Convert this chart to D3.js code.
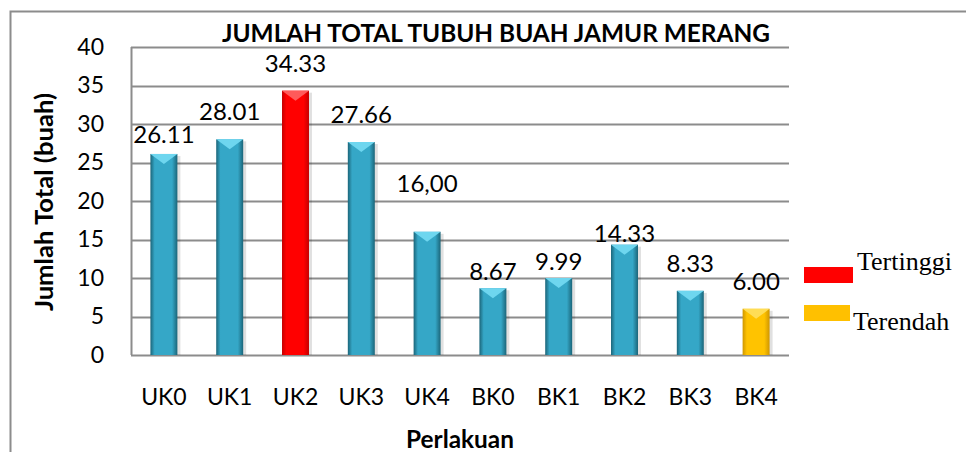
<!DOCTYPE html>
<html>
<head>
<meta charset="utf-8">
<script src="https://cdn.jsdelivr.net/npm/d3@7"></script>
<style>
  body { margin: 0; background: #fff; }
  svg { display: block; font-family: Lato, "Open Sans", sans-serif; }
</style>
</head>
<body>
<span></span>
<script>
// jumlah total tubuh buah jamur merang per perlakuan

const categories = ["UK0", "UK1", "UK2", "UK3", "UK4", "BK0", "BK1", "BK2", "BK3", "BK4"];
const values = [26.11, 28.01, 34.33, 27.66, 16.00, 8.67, 9.99, 14.33, 8.33, 6.00];
const valueLabels = ["26.11", "28.01", "34.33", "27.66", "16,00", "8.67", "9.99", "14.33", "8.33", "6.00"];
const yTicks = [0, 5, 10, 15, 20, 25, 30, 35, 40];
const legendItems = ["Tertinggi", "Terendah"];

// how far each label sits above its bar (labels were moved by hand in the original)
const labelGap = [11, 19, 19, 19, 40, 8, 8, 3, 19, 19];

var width = 966, height = 452;
var margin = {top: 47, right: 177, bottom: 97, left: 131};

const svg = d3.select("span")
    .append("svg")
    .attr("width", width)
    .attr("height", height);

const defs = svg.append("defs");

// bevel look: darker edges, lighter middle
function bevel(id, edge, mid) {
    const g = defs.append("linearGradient").attr("id", id)
        .attr("x1", "0%").attr("x2", "100%");
    g.append("stop").attr("offset", "0%").attr("stop-color", edge);
    g.append("stop").attr("offset", "16%").attr("stop-color", mid);
    g.append("stop").attr("offset", "80%").attr("stop-color", mid);
    g.append("stop").attr("offset", "100%").attr("stop-color", edge);
}
bevel("gBlue", "#1b6579", "#35a7c7");
bevel("gRed", "#c40000", "#ff0000");
bevel("gYellow", "#cf9600", "#ffc300");

const hi = d3.max(values), lo = d3.min(values);
function barStyle(v) {
    if (v === hi) return {fill: "url(#gRed)", top: "#ff5a5a"};
    if (v === lo) return {fill: "url(#gYellow)", top: "#ffdd55"};
    return {fill: "url(#gBlue)", top: "#6ed6ef"};
}

// outer frame
svg.append("path")
    .attr("d", `M10.5,${height + 5} V11.5 H${width + 5}`)
    .attr("fill", "none")
    .attr("stroke", "#8c8c8c")
    .attr("stroke-width", 2);

const xScale = d3.scaleBand()
    .domain(categories)
    .range([margin.left, width - margin.right])
    .paddingInner(0.59)
    .paddingOuter(0.295);

const yScale = d3.scaleLinear()
    .domain([0, 40])
    .range([height - margin.bottom, margin.top]);

// gridlines
svg.append("g")
    .selectAll("line")
    .data(yTicks)
    .join("line")
    .attr("x1", margin.left)
    .attr("x2", width - margin.right)
    .attr("y1", d => Math.round(yScale(d)) + 0.5)
    .attr("y2", d => Math.round(yScale(d)) + 0.5)
    .attr("stroke", "#8c8c8c")
    .attr("stroke-width", 2);

svg.append("line")
    .attr("x1", margin.left + 0.5).attr("x2", margin.left + 0.5)
    .attr("y1", yScale(40)).attr("y2", yScale(0))
    .attr("stroke", "#8c8c8c")
    .attr("stroke-width", 2);

// y axis
const yAxis = svg.append("g")
    .attr("transform", `translate(${margin.left}, 0)`)
    .call(d3.axisLeft(yScale).tickValues(yTicks).tickSize(0).tickPadding(27));
yAxis.select(".domain").remove();
yAxis.selectAll("text")
    .attr("font-family", "Lato, sans-serif")
    .attr("font-size", 23)
    .attr("fill", "#000");

// x axis
const xAxis = svg.append("g")
    .attr("transform", `translate(0, ${yScale(0)})`)
    .call(d3.axisBottom(xScale).tickSize(0).tickPadding(34));
xAxis.select(".domain").remove();
xAxis.selectAll("text")
    .attr("font-family", "Lato, sans-serif")
    .attr("font-size", 23)
    .attr("fill", "#000");

// bars
const bars = svg.append("g")
    .selectAll("g")
    .data(values)
    .join("g");

bars.append("rect")
    .attr("x", (d, i) => xScale(categories[i]) + 3)
    .attr("y", d => yScale(d) + 2)
    .attr("width", xScale.bandwidth())
    .attr("height", d => yScale(0) - yScale(d) - 2)
    .attr("fill", "#000")
    .attr("opacity", 0.12);

bars.append("rect")
    .attr("x", (d, i) => xScale(categories[i]))
    .attr("y", d => yScale(d))
    .attr("width", xScale.bandwidth())
    .attr("height", d => yScale(0) - yScale(d))
    .attr("fill", d => barStyle(d).fill);

bars.append("path")
    .attr("d", (d, i) => {
        const x0 = xScale(categories[i]), w = xScale.bandwidth(), y0 = yScale(d);
        return `M${x0},${y0} H${x0 + w} L${x0 + w * 0.5},${y0 + 10} Z`;
    })
    .attr("fill", d => barStyle(d).top);

// value labels
svg.append("g")
    .selectAll("text")
    .data(values)
    .join("text")
    .attr("x", (d, i) => xScale(categories[i]) + xScale.bandwidth() / 2)
    .attr("y", (d, i) => yScale(d) - labelGap[i])
    .attr("text-anchor", "middle")
    .attr("font-size", 24)
    .text((d, i) => valueLabels[i]);

// title
svg.append("text")
    .attr("x", 222)
    .attr("y", 42)
    .attr("font-size", 25)
    .attr("font-weight", "bold")
    .attr("textLength", 548)
    .attr("lengthAdjust", "spacingAndGlyphs")
    .text("JUMLAH TOTAL TUBUH BUAH JAMUR MERANG");

// axis titles
svg.append("text")
    .attr("transform", `translate(53, 202) rotate(-90)`)
    .attr("text-anchor", "middle")
    .attr("font-size", 24)
    .attr("font-weight", "bold")
    .attr("textLength", 218)
    .attr("lengthAdjust", "spacingAndGlyphs")
    .text("Jumlah Total (buah)");

svg.append("text")
    .attr("x", 460)
    .attr("y", 448)
    .attr("text-anchor", "middle")
    .attr("font-size", 24)
    .attr("font-weight", "bold")
    .attr("textLength", 108)
    .attr("lengthAdjust", "spacingAndGlyphs")
    .text("Perlakuan");

// legend
const legendColors = ["#ff0000", "#ffc000"];
const legend = svg.append("g")
    .selectAll("g")
    .data(legendItems)
    .join("g");
legend.append("rect")
    .attr("x", 804)
    .attr("y", (d, i) => 267 + i * 38)
    .attr("width", (d, i) => i === 0 ? 49 : 46)
    .attr("height", 16)
    .attr("fill", (d, i) => legendColors[i]);
legend.append("text")
    .attr("x", (d, i) => i === 0 ? 857 : 853)
    .attr("y", (d, i) => 270 + i * 60)
    .attr("font-family", "'Liberation Serif', 'Times New Roman', serif")
    .attr("font-size", 26)
    .text(d => d);
</script>
</body>
</html>
